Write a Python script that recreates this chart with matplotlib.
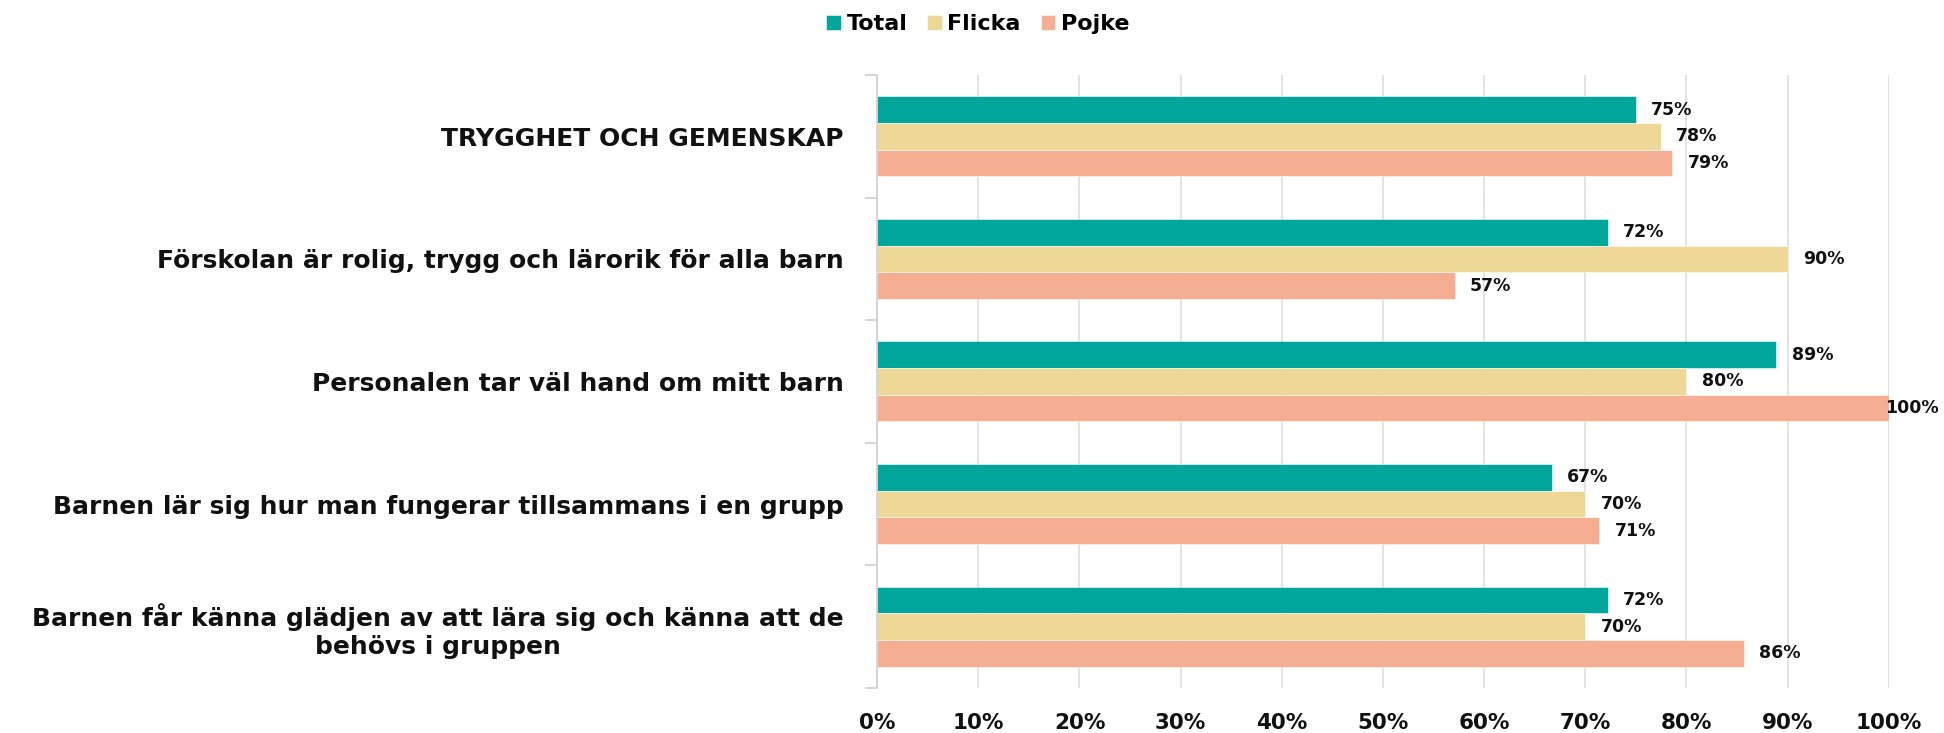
import matplotlib

matplotlib.use("Agg")
import matplotlib.pyplot as plt
import numpy as np

# ----------------------------------------------------------------------
# Data (share of positive answers)
# ----------------------------------------------------------------------
CATEGORIES = [
    "TRYGGHET OCH GEMENSKAP",
    "Förskolan är rolig, trygg och lärorik för alla barn",
    "Personalen tar väl hand om mitt barn",
    "Barnen lär sig hur man fungerar tillsammans i en grupp",
    "Barnen får känna glädjen av att lära sig och känna att de\nbehövs i gruppen",
]
TOTAL = [0.750, 0.722, 0.889, 0.667, 0.722]
FLICKA = [0.775, 0.900, 0.800, 0.700, 0.700]
POJKE = [0.786, 0.571, 1.000, 0.714, 0.857]

SERIES = [("Total", TOTAL), ("Flicka", FLICKA), ("Pojke", POJKE)]
COLORS = ["#00a59b", "#edd898", "#f6ae92"]

XTICKS = [0.0, 0.1, 0.2, 0.3, 0.4, 0.5, 0.6, 0.7, 0.8, 0.9, 1.0]
XTICKLABELS = ["0%", "10%", "20%", "30%", "40%", "50%", "60%", "70%", "80%", "90%", "100%"]

plt.rcParams["font.family"] = ["DejaVu Sans"]
plt.rcParams["font.weight"] = "bold"

fig = plt.figure(figsize=(19.44, 7.33), dpi=100)
ax = fig.add_axes([0.4512, 0.0614, 0.5204, 0.8363])

y = np.arange(len(CATEGORIES))
bar_h = 0.2175

for i, (name, vals) in enumerate(SERIES):
    pos = y + (i - 1) * bar_h
    bars = ax.barh(pos, vals, height=bar_h, color=COLORS[i], label=name,
                   edgecolor="white", linewidth=0.4, zorder=2)
    for b, v in zip(bars, vals):
        # the 100% label sits on the bar end, as in the source chart
        ax.text(v + 0.015 if v < 0.995 else v - 0.004, b.get_y() + b.get_height() / 2,
                f"{v * 100:.0f}%", va="center", ha="left", fontsize=12.5,
                fontweight="bold", color="#111111", clip_on=False, zorder=3)

ax.set_xlim(0, 1)
ax.set_ylim(len(CATEGORIES) - 0.5, -0.5)

ax.set_xticks(XTICKS)
ax.set_xticklabels(XTICKLABELS, fontsize=15.5, fontweight="bold", color="#111111")
ax.tick_params(axis="x", length=0, pad=18)

ax.set_yticks(y)
ax.set_yticklabels(CATEGORIES, fontsize=18, fontweight="bold", color="#111111",
                   multialignment="center")
ax.tick_params(axis="y", which="major", length=0, pad=24)
ax.set_yticks(np.arange(len(CATEGORIES) + 1) - 0.5, minor=True)
ax.tick_params(axis="y", which="minor", length=9, width=1.2, color="#d0d0d0")

ax.grid(True, axis="x", color="#dedede", linewidth=1.2, zorder=0)
ax.set_axisbelow(True)
for side in ("top", "right", "bottom"):
    ax.spines[side].set_visible(False)
ax.spines["left"].set_color("#d0d0d0")
ax.spines["left"].set_linewidth(1.2)

fig.legend(loc="center", bbox_to_anchor=(0.503, 0.967), ncol=3, frameon=False,
           prop={"size": 16, "weight": "bold"}, handlelength=0.65, handleheight=0.65,
           handletextpad=0.25, columnspacing=0.9)

fig.savefig("out.png", dpi=100)
